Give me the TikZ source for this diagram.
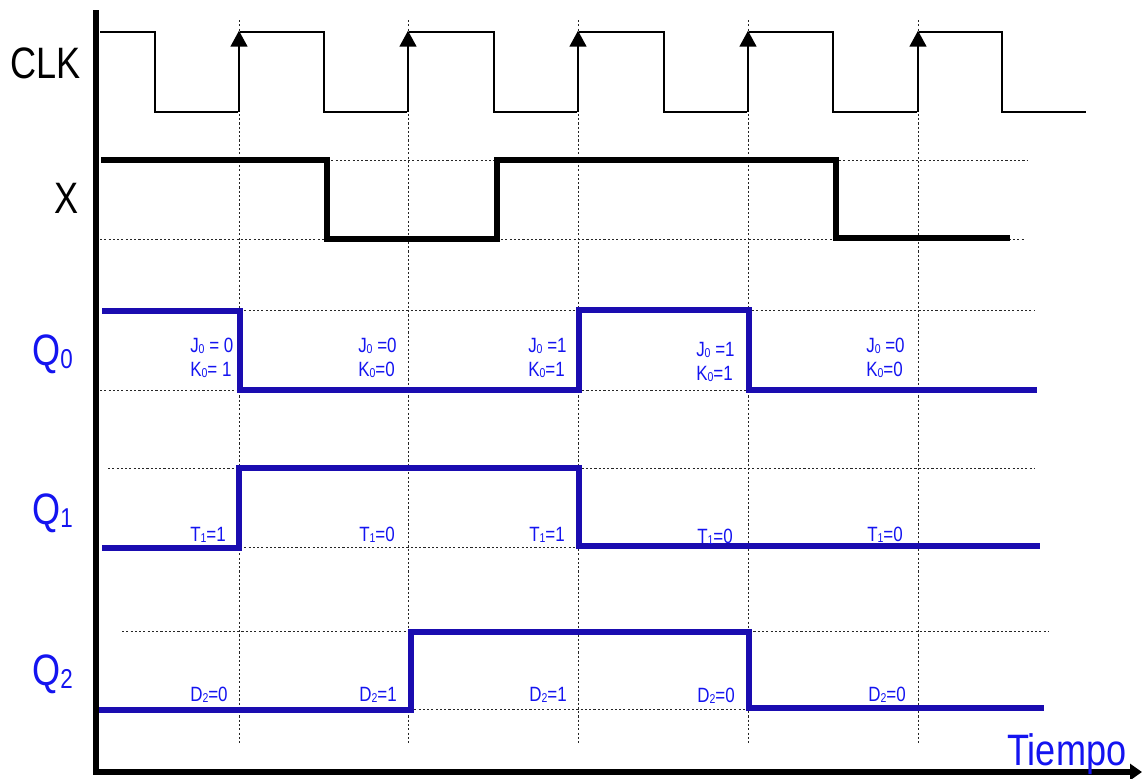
\documentclass[tikz,border=0pt]{standalone}
\usepackage{fontspec}
\setmainfont[FakeStretch=0.82]{Liberation Sans}
\usetikzlibrary{arrows.meta}
\definecolor{sigblue}{HTML}{1A0CB0}
\definecolor{txtblue}{HTML}{1414F0}
\newcommand{\lowsub}[1]{\raisebox{-.07em}{\scalebox{.62}{#1}}}
\tikzset{
  axisline/.style={black,line width=4.5pt},
  clkline/.style={black,line width=1pt,line join=miter},
  xline/.style={black,line width=4.2pt,line join=miter},
  qline/.style={sigblue,line width=4.2pt,line join=miter},
  guide/.style={black!85,line width=.6pt,dash pattern=on 1.6pt off 1.6pt},
  edgearrow/.style={black,line width=1.9pt,-{Triangle[width=12.5pt,length=12pt]},shorten >=-1pt},
  biglabel/.style={anchor=base west,inner sep=0pt,font=\fontsize{33}{33}\selectfont},
  bigblue/.style={biglabel,text=txtblue},
  smalllabel/.style={anchor=base west,inner sep=0pt,text=txtblue,font=\fontsize{15.5}{15.5}\selectfont},
}
\begin{document}
\begin{tikzpicture}[x=.75pt,y=-.75pt]
\useasboundingbox (0,0) rectangle (1142,778);
% guides
\foreach \gx in {239,408,578,748,918} \draw[guide] (\gx,20) -- (\gx,745);
\draw[guide] (327,160) -- (1027,160);
\draw[guide] (100,239) -- (1025,239);
\draw[guide] (240,310) -- (1035,310);
\draw[guide] (100,390) -- (1035,390);
\draw[guide] (108,468) -- (1035,468);
\draw[guide] (240,547) -- (1035,547);
\draw[guide] (122,631) -- (1048,631);
\draw[guide] (410,709) -- (1040,709);
% clock
\draw[clkline] (100,32) -- (155,32) -- (155,112) -- (238,112);
\draw[clkline] (240,32) -- (324,32) -- (324,112) -- (407,112);
\draw[clkline] (409,32) -- (494,32) -- (494,112) -- (577,112);
\draw[clkline] (579,32) -- (664,32) -- (664,112) -- (747,112);
\draw[clkline] (749,32) -- (833,32) -- (833,112) -- (917,112);
\draw[clkline] (919,32) -- (1002,32) -- (1002,112) -- (1086,112);
\foreach \gx in {239,408,578,748,918} \draw[edgearrow] (\gx,112) -- (\gx,32);
% signals
\draw[xline] (101,160) -- (327,160) -- (327,239) -- (497,239) -- (497,160) -- (836,160) -- (836,238) -- (1010,238);
\draw[qline] (102,311) -- (240,311) -- (240,390) -- (579,390) -- (579,310) -- (749,310) -- (749,390) -- (1037,390);
\draw[qline] (102,548) -- (239,548) -- (239,468) -- (579,468) -- (579,546) -- (1040,546);
\draw[qline] (96,710) -- (411,710) -- (411,632) -- (749,632) -- (749,708) -- (1044,708);
% axes
\coordinate (origin) at (96,772);
\coordinate (ytop) at (96,10);
\coordinate (xend) at (1142,772);
\draw[axisline] (ytop) -- (96,774.5);
\draw[axisline,-{Triangle[width=12pt,length=9pt]}] (origin) -- (xend);
% left labels
\node[biglabel] (lclk) at (10,78) {CLK};
\node[biglabel] (lx) at (54,213) {X};
\node[bigblue] (lq0) at (32,365) {Q\lowsub{0}};
\node[bigblue] (lq1) at (32,524) {Q\lowsub{1}};
\node[bigblue] (lq2) at (32,685) {Q\lowsub{2}};
\node[bigblue] (ltime) at (1007,765) {Tiempo};
% Q0 labels
\node[smalllabel] (j1) at (190,352) {J\lowsub{0} = 0};
\node[smalllabel] (k1) at (190,376) {K\lowsub{0}= 1};
\node[smalllabel] (j2) at (358,352) {J\lowsub{0} =0};
\node[smalllabel] (k2) at (358,376) {K\lowsub{0}=0};
\node[smalllabel] (j3) at (528,352) {J\lowsub{0} =1};
\node[smalllabel] (k3) at (528,376) {K\lowsub{0}=1};
\node[smalllabel] (j4) at (696,356) {J\lowsub{0} =1};
\node[smalllabel] (k4) at (696,380) {K\lowsub{0}=1};
\node[smalllabel] (j5) at (866,352) {J\lowsub{0} =0};
\node[smalllabel] (k5) at (866,376) {K\lowsub{0}=0};
% Q1 labels
\node[smalllabel] (t1) at (190,541) {T\lowsub{1}=1};
\node[smalllabel] (t2) at (359,541) {T\lowsub{1}=0};
\node[smalllabel] (t3) at (529,541) {T\lowsub{1}=1};
\node[smalllabel] (t4) at (697,543) {T\lowsub{1}=0};
\node[smalllabel] (t5) at (867,541) {T\lowsub{1}=0};
% Q2 labels
\node[smalllabel] (d1) at (190,701) {D\lowsub{2}=0};
\node[smalllabel] (d2) at (359,701) {D\lowsub{2}=1};
\node[smalllabel] (d3) at (529,701) {D\lowsub{2}=1};
\node[smalllabel] (d4) at (697,702) {D\lowsub{2}=0};
\node[smalllabel] (d5) at (868,701) {D\lowsub{2}=0};
\end{tikzpicture}
\end{document}
